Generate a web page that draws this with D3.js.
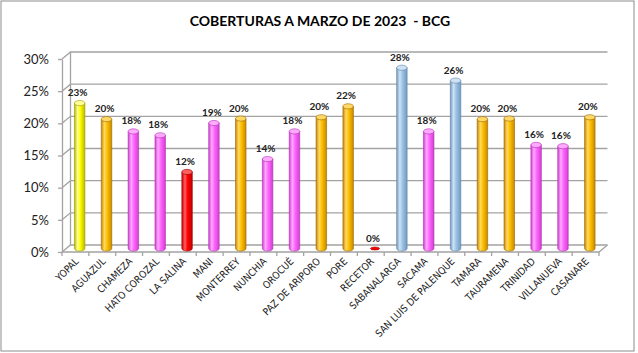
<!DOCTYPE html>
<html>
<head>
	<meta charset="utf-8">
	<title>Coberturas BCG</title>
	<style>
		body { margin: 0; background: white; }
		svg { display: block; }
		.title { font-family: 'Lato', sans-serif; font-weight: bold; font-size: 14px; }
		.ylab text { font-family: 'Lato', sans-serif; font-size: 13px; fill: #222; }
		.xlab text { font-family: 'Liberation Sans Narrow', 'DejaVu Sans Condensed', sans-serif; font-size: 10px; fill: #222; }
		.val { font-family: 'Lato', sans-serif; font-weight: bold; font-size: 10px; fill: #222; }
	</style>
</head>
<body>
<svg width="638" height="353"></svg>
<script src="https://d3js.org/d3.v7.min.js"></script>
<script>

	// municipios
	let categories = ['YOPAL', 'AGUAZUL', 'CHAMEZA', 'HATO COROZAL', 'LA SALINA', 'MANI', 'MONTERREY',
		'NUNCHIA', 'OROCUÉ', 'PAZ DE ARIPORO', 'PORE', 'RECETOR', 'SABANALARGA', 'SACAMA',
		'SAN LUIS DE PALENQUE', 'TAMARA', 'TAURAMENA', 'TRINIDAD', 'VILLANUEVA', 'CASANARE']

	// cobertura (fraction)
	let values = [0.226, 0.201, 0.182, 0.176, 0.119, 0.195, 0.202,
		0.139, 0.182, 0.204, 0.221, 0.0, 0.281, 0.182,
		0.261, 0.201, 0.202, 0.161, 0.159, 0.204]

	// data labels as shown
	let labels = ['23%', '20%', '18%', '18%', '12%', '19%', '20%', '14%', '18%', '20%',
		'22%', '0%', '28%', '18%', '26%', '20%', '20%', '16%', '16%', '20%']

	// colour group of each bar
	let groups = ['yellow', 'orange', 'pink', 'pink', 'red', 'pink', 'orange',
		'pink', 'pink', 'orange', 'orange', 'red', 'blue', 'pink',
		'blue', 'orange', 'orange', 'pink', 'pink', 'orange']

	let yTicks = [0, 0.05, 0.10, 0.15, 0.20, 0.25, 0.30]

	let palette = {
		yellow: { base: '#ffff00', light: '#ffff99', dark: '#b8b800', edge: '#9a9a00' },
		orange: { base: '#ffc000', light: '#ffd966', dark: '#c88a00', edge: '#9a6400' },
		pink:   { base: '#ff66ff', light: '#ffaaff', dark: '#d040d0', edge: '#b030b0' },
		red:    { base: '#ff0000', light: '#ff6060', dark: '#c00000', edge: '#a00000' },
		blue:   { base: '#9dc3e6', light: '#cfe2f3', dark: '#7399c0', edge: '#5f84aa' }
	}

	let svg = d3.select('svg')

	// depth of the 3d box
	let dx = 8.5, dy = -7

	let x = d3.scaleBand()
		.domain(categories)
		.range([62, 599])

	let y = d3.scaleLinear()
		.domain([0, 0.30])
		.range([252, 59])

	// outer frame
	svg.append('rect')
		.attr('x', 1).attr('y', 1)
		.attr('width', 633).attr('height', 350)
		.style('fill', 'white')
		.style('stroke', '#8c8c8c')
		.style('stroke-width', 1)

	svg.append('text')
		.attr('class', 'title')
		.attr('x', 320).attr('y', 26)
		.attr('text-anchor', 'middle')
		.style('white-space', 'pre')
		.text('COBERTURAS A MARZO DE 2023  - BCG')

	// gradients
	let defs = svg.append('defs')
	Object.keys(palette).forEach(k => {
		let p = palette[k]
		let g = defs.append('linearGradient')
			.attr('id', 'g-' + k)
			.attr('x1', 0).attr('x2', 1).attr('y1', 0).attr('y2', 0)
		g.append('stop').attr('offset', '0%').attr('stop-color', p.dark)
		g.append('stop').attr('offset', '30%').attr('stop-color', p.light)
		g.append('stop').attr('offset', '55%').attr('stop-color', p.base)
		g.append('stop').attr('offset', '100%').attr('stop-color', p.dark)
	})

	let x0 = x.range()[0], x1 = x.range()[1]
	let gridColor = '#a3a3a3'

	// gridlines: side wall + back wall
	svg.append('g')
		.selectAll('path')
		.data(yTicks)
		.join('path')
		.attr('d', t => `M${x0},${y(t)} L${x0 + dx},${y(t) + dy} L${x1 + dx},${y(t) + dy}`)
		.style('fill', 'none')
		.style('stroke', gridColor)
		.style('stroke-width', 1.3)

	// back wall left edge
	svg.append('line')
		.attr('x1', x0 + dx).attr('x2', x0 + dx)
		.attr('y1', y(0.30) + dy).attr('y2', y(0) + dy)
		.style('stroke', gridColor).style('stroke-width', 1.3)

	// floor front and right edges
	svg.append('path')
		.attr('d', `M${x0},${y(0)} L${x1},${y(0)} L${x1 + dx},${y(0) + dy}`)
		.style('fill', 'none')
		.style('stroke', gridColor).style('stroke-width', 1.3)

	// y axis
	let yAxis = d3.axisLeft(y)
		.tickValues(yTicks)
		.tickFormat(d3.format('.0%'))
		.tickSize(4)
		.tickSizeOuter(0)
		.tickPadding(9)

	let yg = svg.append('g')
		.attr('class', 'ylab')
		.attr('transform', `translate(${x0},0)`)
		.call(yAxis)
	yg.select('.domain').style('stroke', gridColor).style('stroke-width', 1.3)
	yg.selectAll('.tick line').style('stroke', gridColor).style('stroke-width', 1.3)

	// x tick marks at band edges
	let edges = categories.map(c => x(c)).concat([x1])
	svg.append('g')
		.selectAll('line')
		.data(edges)
		.join('line')
		.attr('x1', d => d).attr('x2', d => d)
		.attr('y1', y(0)).attr('y2', y(0) + 4)
		.style('stroke', gridColor).style('stroke-width', 1.3)

	// x labels
	let xAxis = d3.axisBottom(x).tickSize(0).tickPadding(0)
	let xg = svg.append('g')
		.attr('class', 'xlab')
		.attr('transform', `translate(0,${y(0)})`)
		.call(xAxis)
	xg.select('.domain').remove()
	xg.selectAll('.tick text')
		.attr('text-anchor', 'end')
		.attr('dy', null)
		.attr('transform', 'translate(4,10) rotate(-45)')

	// cylinders
	let bw = 10.5, ry = 2.6
	let data = categories.map((c, i) => ({ cat: c, v: values[i], lab: labels[i], grp: groups[i] }))

	let bars = svg.append('g')
		.selectAll('g')
		.data(data)
		.join('g')

	let cx = d => x(d.cat) + x.bandwidth() / 2 + dx / 2
	let yb = y(0) + dy / 2

	bars.filter(d => d.v > 0)
		.append('path')
		.attr('d', d => {
			let l = cx(d) - bw / 2, r = cx(d) + bw / 2, t = y(d.v) + dy / 2
			return `M${l},${t} L${l},${yb} A${bw / 2},${ry} 0 0 0 ${r},${yb} L${r},${t} Z`
		})
		.style('fill', d => `url(#g-${d.grp})`)
		.style('stroke', d => palette[d.grp].edge)
		.style('stroke-width', 0.6)

	bars.append('ellipse')
		.attr('cx', cx)
		.attr('cy', d => d.v > 0 ? y(d.v) + dy / 2 : yb)
		.attr('rx', d => d.v > 0 ? bw / 2 : 4.5)
		.attr('ry', d => d.v > 0 ? ry : 1.5)
		.style('fill', d => d.v > 0 ? palette[d.grp].light : palette[d.grp].base)
		.style('stroke', d => palette[d.grp].edge)
		.style('stroke-width', 0.6)

	// value labels
	bars.append('text')
		.attr('class', 'val')
		.attr('x', d => cx(d) - 2)
		.attr('y', d => y(d.v) + dy / 2 - 7)
		.attr('text-anchor', 'middle')
		.text(d => d.lab)

</script>
</body>
</html>
